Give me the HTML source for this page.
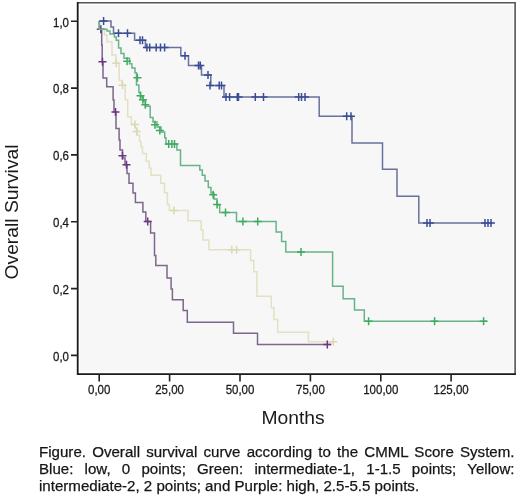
<!DOCTYPE html>
<html><head><meta charset="utf-8">
<style>
html,body{margin:0;padding:0;background:#fff;}
body{width:520px;height:496px;position:relative;overflow:hidden;font-family:"Liberation Sans",sans-serif;}
svg{position:absolute;left:0;top:0;will-change:transform;}
.cap{position:absolute;left:38.7px;top:442.8px;width:475.5px;font-size:15.1px;line-height:17px;color:#151515;text-align:justify;will-change:transform;-webkit-text-stroke:0.25px #151515;}
</style></head><body>
<svg width="520" height="496" viewBox="0 0 520 496">
<rect x="80" y="5.3" width="433" height="366" fill="#f7f7f7"/>
<path d="M99.3 21.0 L99.3 29.3 L104.5 29.3 L104.5 35.0 L107.0 35.0 L107.0 41.8 L112.0 41.8 L112.0 55.0 L116.0 55.0 L116.0 63.3 L119.2 63.3 L119.2 80.5 L122.0 80.5 L122.0 85.3 L125.2 85.3 L125.2 99.8 L127.7 99.8 L127.7 116.8 L131.3 116.8 L131.3 124.5 L135.0 124.5 L135.0 128.0 L137.0 128.0 L137.0 135.0 L139.6 135.0 L139.6 141.5 L141.0 141.5 L141.0 147.0 L142.5 147.0 L142.5 153.5 L146.3 153.5 L146.3 161.2 L149.2 161.2 L149.2 167.9 L151.0 167.9 L151.0 175.2 L160.7 175.2 L160.7 183.2 L164.5 183.2 L164.5 192.8 L167.4 192.8 L167.4 204.3 L169.3 204.3 L169.3 210.6 L188.0 210.6 L188.0 220.8 L201.2 220.8 L201.2 230.0 L203.0 230.0 L203.0 240.0 L208.9 240.0 L208.9 249.7 L250.6 249.7 L250.6 260.4 L253.8 260.4 L253.8 271.7 L256.9 271.7 L256.9 296.2 L271.3 296.2 L271.3 307.7 L273.9 307.7 L273.9 319.4 L277.7 319.4 L277.7 332.3 L308.4 332.3 L308.4 341.8 L333.3 341.8" fill="none" stroke="#e3e1c3" stroke-width="1.5"/>
<path d="M116.3 59.3 V67.3 M112.3 63.3 H120.3 M122.5 81.3 V89.3 M118.5 85.3 H126.5 M135.0 120.5 V128.5 M131.0 124.5 H139.0 M136.7 127.5 V135.5 M132.7 131.5 H140.7 M174.0 206.6 V214.6 M170.0 210.6 H178.0 M231.8 245.7 V253.7 M227.8 249.7 H235.8 M236.6 245.7 V253.7 M232.6 249.7 H240.6 M333.3 337.8 V345.8 M329.3 341.8 H337.3 " fill="none" stroke="#dcd8b2" stroke-width="1.5"/>
<path d="M99.3 21.0 L99.3 29.3 L101.7 29.3 L101.7 45.0 L102.2 45.0 L102.2 61.8 L103.0 61.8 L103.0 78.1 L106.7 78.1 L106.7 86.7 L113.1 86.7 L113.1 100.0 L114.0 100.0 L114.0 112.0 L116.0 112.0 L116.0 128.4 L119.1 128.4 L119.1 140.0 L120.0 140.0 L120.0 150.0 L122.5 150.0 L122.5 158.0 L125.0 158.0 L125.0 164.7 L127.0 164.7 L127.0 173.5 L129.0 173.5 L129.0 183.2 L133.0 183.2 L133.0 193.0 L135.4 193.0 L135.4 202.4 L142.9 202.4 L142.9 212.0 L145.8 212.0 L145.8 221.6 L150.6 221.6 L150.6 232.9 L154.5 232.9 L154.5 255.5 L155.8 255.5 L155.8 265.5 L167.0 265.5 L167.0 277.9 L171.1 277.9 L171.1 288.9 L172.4 288.9 L172.4 299.7 L183.2 299.7 L183.2 310.6 L187.3 310.6 L187.3 322.3 L233.5 322.3 L233.5 333.3 L257.5 333.3 L257.5 344.5 L331.0 344.5" fill="none" stroke="#7d678c" stroke-width="1.5"/>
<path d="M100.8 25.3 V33.3 M96.8 29.3 H104.8 M102.5 57.8 V65.8 M98.5 61.8 H106.5 M115.5 108.0 V116.0 M111.5 112.0 H119.5 M122.5 151.8 V159.8 M118.5 155.8 H126.5 M126.5 160.7 V168.7 M122.5 164.7 H130.5 M147.7 217.6 V225.6 M143.7 221.6 H151.7 M327.3 340.5 V348.5 M323.3 344.5 H331.3 " fill="none" stroke="#6c3584" stroke-width="1.5"/>
<path d="M99.3 21.0 L99.3 29.3 L107.0 29.3 L107.0 31.1 L110.0 31.1 L110.0 34.1 L114.4 34.1 L114.4 37.1 L116.2 37.1 L116.2 40.2 L118.6 40.2 L118.6 48.0 L121.0 48.0 L121.0 53.5 L124.0 53.5 L124.0 58.3 L129.5 58.3 L129.5 63.8 L131.9 63.8 L131.9 68.0 L135.0 68.0 L135.0 72.8 L136.5 72.8 L136.5 85.0 L138.9 85.0 L138.9 92.6 L140.5 92.6 L140.5 97.0 L143.0 97.0 L143.0 101.0 L145.5 101.0 L145.5 106.3 L150.2 106.3 L150.2 117.6 L153.0 117.6 L153.0 122.0 L157.0 122.0 L157.0 127.0 L161.0 127.0 L161.0 132.0 L164.7 132.0 L164.7 137.7 L166.0 137.7 L166.0 143.9 L176.9 143.9 L176.9 150.0 L180.5 150.0 L180.5 165.6 L199.8 165.6 L199.8 170.0 L202.3 170.0 L202.3 175.3 L205.0 175.3 L205.0 181.0 L208.3 181.0 L208.3 187.4 L211.0 187.4 L211.0 193.0 L214.0 193.0 L214.0 199.0 L217.0 199.0 L217.0 205.0 L219.7 205.0 L219.7 212.6 L236.5 212.6 L236.5 221.6 L276.1 221.6 L276.1 232.0 L281.6 232.0 L281.6 241.6 L285.8 241.6 L285.8 252.0 L332.6 252.0 L332.6 286.3 L343.1 286.3 L343.1 298.8 L354.5 298.8 L354.5 309.9 L364.3 309.9 L364.3 321.3 L486.9 321.3" fill="none" stroke="#68b48a" stroke-width="1.5"/>
<path d="M127.1 57.3 V65.3 M123.1 61.3 H131.1 M137.4 73.7 V81.7 M133.4 77.7 H141.4 M140.5 91.8 V99.8 M136.5 95.8 H144.5 M142.9 95.8 V103.8 M138.9 99.8 H146.9 M145.3 100.7 V108.7 M141.3 104.7 H149.3 M155.0 120.8 V128.8 M151.0 124.8 H159.0 M159.8 126.5 V134.5 M155.8 130.5 H163.8 M168.7 139.9 V147.9 M164.7 143.9 H172.7 M171.9 139.9 V147.9 M167.9 143.9 H175.9 M174.5 139.9 V147.9 M170.5 143.9 H178.5 M213.2 190.8 V198.8 M209.2 194.8 H217.2 M217.1 200.5 V208.5 M213.1 204.5 H221.1 M225.5 208.6 V216.6 M221.5 212.6 H229.5 M242.9 217.6 V225.6 M238.9 221.6 H246.9 M257.7 217.6 V225.6 M253.7 221.6 H261.7 M301.0 248.0 V256.0 M297.0 252.0 H305.0 M368.6 317.3 V325.3 M364.6 321.3 H372.6 M434.6 317.3 V325.3 M430.6 321.3 H438.6 M483.6 317.3 V325.3 M479.6 321.3 H487.6 " fill="none" stroke="#3fab5e" stroke-width="1.5"/>
<path d="M99.0 21.0 L111.0 21.0 L111.0 27.0 L113.5 27.0 L113.5 33.3 L134.6 33.3 L134.6 40.2 L145.4 40.2 L145.4 47.5 L180.8 47.5 L180.8 55.8 L188.5 55.8 L188.5 65.5 L201.5 65.5 L201.5 75.0 L210.8 75.0 L210.8 85.5 L224.0 85.5 L224.0 96.9 L319.2 96.9 L319.2 116.2 L352.0 116.2 L352.0 143.0 L382.5 143.0 L382.5 169.3 L397.0 169.3 L397.0 196.3 L418.8 196.3 L418.8 223.0 L492.5 223.0" fill="none" stroke="#68729c" stroke-width="1.5"/>
<path d="M103.6 17.0 V25.0 M99.6 21.0 H107.6 M118.5 29.3 V37.3 M114.5 33.3 H122.5 M127.5 29.3 V37.3 M123.5 33.3 H131.5 M140.0 36.2 V44.2 M136.0 40.2 H144.0 M142.5 36.2 V44.2 M138.5 40.2 H146.5 M146.9 43.5 V51.5 M142.9 47.5 H150.9 M149.7 43.5 V51.5 M145.7 47.5 H153.7 M156.2 43.5 V51.5 M152.2 47.5 H160.2 M160.5 43.5 V51.5 M156.5 47.5 H164.5 M164.6 43.5 V51.5 M160.6 47.5 H168.6 M185.0 51.8 V59.8 M181.0 55.8 H189.0 M198.5 61.5 V69.5 M194.5 65.5 H202.5 M200.3 61.5 V69.5 M196.3 65.5 H204.3 M208.0 71.0 V79.0 M204.0 75.0 H212.0 M210.0 81.5 V89.5 M206.0 85.5 H214.0 M219.2 81.5 V89.5 M215.2 85.5 H223.2 M221.5 81.5 V89.5 M217.5 85.5 H225.5 M226.0 92.9 V100.9 M222.0 96.9 H230.0 M229.6 92.9 V100.9 M225.6 96.9 H233.6 M237.3 92.9 V100.9 M233.3 96.9 H241.3 M238.5 92.9 V100.9 M234.5 96.9 H242.5 M255.3 92.9 V100.9 M251.3 96.9 H259.3 M263.5 92.9 V100.9 M259.5 96.9 H267.5 M298.7 92.9 V100.9 M294.7 96.9 H302.7 M301.5 92.9 V100.9 M297.5 96.9 H305.5 M305.0 92.9 V100.9 M301.0 96.9 H309.0 M346.7 112.2 V120.2 M342.7 116.2 H350.7 M351.0 112.2 V120.2 M347.0 116.2 H355.0 M427.0 219.0 V227.0 M423.0 223.0 H431.0 M430.0 219.0 V227.0 M426.0 223.0 H434.0 M485.0 219.0 V227.0 M481.0 223.0 H489.0 M488.0 219.0 V227.0 M484.0 223.0 H492.0 M491.0 219.0 V227.0 M487.0 223.0 H495.0 " fill="none" stroke="#3a4c98" stroke-width="1.5"/>

<path d="M77.7 2.75 H515.1 V374.1" fill="none" stroke="#555" stroke-width="1.6"/>
<path d="M77.7 2 V374.2 H515.9" fill="none" stroke="#1a1a1a" stroke-width="1.8"/>
<path d="M71 21.2 H78 M71 88.1 H78 M71 154.9 H78 M71 221.7 H78 M71 288.6 H78 M71 355.4 H78 " stroke="#222" stroke-width="1.6"/>
<path d="M99.2 374 V381.5 M169.6 374 V381.5 M240.0 374 V381.5 M310.4 374 V381.5 M380.8 374 V381.5 M451.1 374 V381.5 " stroke="#222" stroke-width="1.6"/>
<g font-family="Liberation Sans, sans-serif" font-size="11.5" fill="#1a1a1a" stroke="#1a1a1a" stroke-width="0.25">
<text transform="translate(69 26.6) scale(1 1.1)" text-anchor="end">1,0</text>
<text transform="translate(69 93.4) scale(1 1.1)" text-anchor="end">0,8</text>
<text transform="translate(69 160.2) scale(1 1.1)" text-anchor="end">0,6</text>
<text transform="translate(69 227.0) scale(1 1.1)" text-anchor="end">0,4</text>
<text transform="translate(69 293.9) scale(1 1.1)" text-anchor="end">0,2</text>
<text transform="translate(69 360.7) scale(1 1.1)" text-anchor="end">0,0</text>
<text transform="translate(99.2 393.5) scale(1 1.1)" text-anchor="middle">0,00</text>
<text transform="translate(169.6 393.5) scale(1 1.1)" text-anchor="middle">25,00</text>
<text transform="translate(240.0 393.5) scale(1 1.1)" text-anchor="middle">50,00</text>
<text transform="translate(310.4 393.5) scale(1 1.1)" text-anchor="middle">75,00</text>
<text transform="translate(380.8 393.5) scale(1 1.1)" text-anchor="middle">100,00</text>
<text transform="translate(451.1 393.5) scale(1 1.1)" text-anchor="middle">125,00</text>
</g>
<text font-family="Liberation Sans, sans-serif" font-size="19.3" fill="#1a1a1a" transform="translate(18.1 279.5) rotate(-90) scale(1 0.94)">Overall Survival</text>
<text font-family="Liberation Sans, sans-serif" font-size="19.3" fill="#1a1a1a" transform="translate(293 423.6) scale(1 0.95)" text-anchor="middle">Months</text>
</svg>
<div class="cap">Figure. Overall survival curve according to the CMML Score System. Blue: low, 0 points; Green: intermediate-1, 1-1.5 points; Yellow: intermediate-2, 2 points; and Purple: high, 2.5-5.5 points.</div>
</body></html>
